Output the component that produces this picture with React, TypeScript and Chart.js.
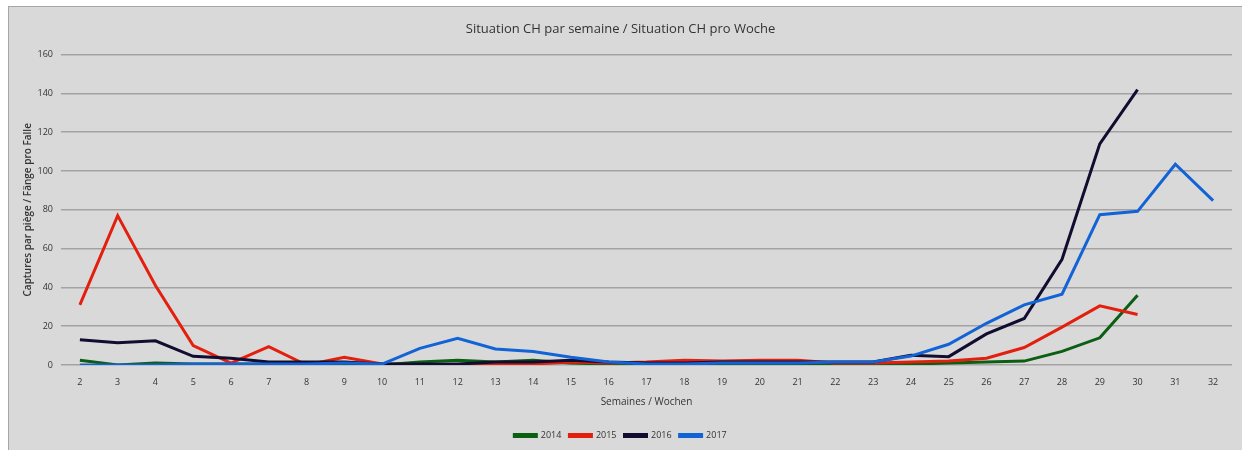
import React, { useEffect, useRef } from "react";
import { Chart, registerables } from "chart.js";

Chart.register(...registerables);

const weeks: string[] = ["2","3","4","5","6","7","8","9","10","11","12","13","14","15","16","17","18","19","20","21","22","23","24","25","26","27","28","29","30","31","32"];

const series2014: (number | null)[] = [2.5, 0, 1, 0.5, 0.5, 0.5, 0.5, 0, 0, 1.5, 2.5, 1.5, 2.5, 1, 0.5, 0, 0, 0, 0, 0, 0, 0.5, 0.5, 1, 1.5, 2, 7, 14, 36, null, null];
const series2015: (number | null)[] = [31, 77, 41, 10, 1, 9.5, 0, 4, 0.5, 0, 0, 0.5, 0.5, 1.5, 1, 1.5, 2.5, 2, 2.5, 2.5, 1, 1, 1.5, 2, 3.5, 9, 19.5, 30.5, 26, null, null];
const series2016: (number | null)[] = [13, 11.5, 12.5, 4.5, 3.5, 1.5, 1.5, 1.5, 0.5, 0.5, 0.5, 1.5, 1.5, 2.5, 1.5, 1, 1, 1.5, 1.5, 1.5, 1.5, 1.5, 5, 4.3, 16, 24, 54.5, 114, 142, null, null];
const series2017: (number | null)[] = [0, 0, 0, 0.5, 0.5, 0.5, 0.5, 1, 0.5, 8.6, 13.8, 8.3, 7, 4, 1.5, 0.5, 0.5, 1, 1, 1, 1.5, 1.5, 4.6, 10.7, 21.5, 31, 36.5, 77.5, 79.2, 103.5, 84.7];

const seriesNames: string[] = ["2014", "2015", "2016", "2017"];
const seriesColors: string[] = ["#0b5e12", "#e3200e", "#120c30", "#1264d6"];

const titleText = "Situation CH par semaine / Situation CH pro Woche";
const yTitle = "Captures par piège / Fänge pro Falle";
const xTitle = "Semaines / Wochen";

export default function App() {
  const ref = useRef<HTMLCanvasElement | null>(null);

  useEffect(() => {
    if (!ref.current) return;
    const all = [series2014, series2015, series2016, series2017];
    const chart = new Chart(ref.current, {
      type: "line",
      data: {
        labels: weeks,
        datasets: all.map((d, i) => ({
          label: seriesNames[i],
          data: d,
          borderColor: seriesColors[i],
          backgroundColor: seriesColors[i],
          borderWidth: 3,
          pointRadius: 0,
          tension: 0,
          spanGaps: false,
          order: 3 - i,
        })),
      },
      options: {
        responsive: false,
        animation: false,
        layout: { padding: { left: 0, right: 10, top: 0, bottom: 0 } },
        plugins: {
          title: {
            display: true,
            text: titleText,
            color: "#333333",
            font: { family: "'Open Sans', sans-serif", size: 13, weight: "normal" },
            padding: { top: 14, bottom: 18 },
          },
          legend: {
            display: true,
            position: "bottom",
            labels: {
              boxWidth: 22,
              boxHeight: 2,
              padding: 8,
              color: "#333333",
              font: { family: "'Open Sans', sans-serif", size: 9 },
              sort: (a: any, b: any) => a.datasetIndex - b.datasetIndex,
            },
          },
          tooltip: { enabled: false },
        },
        scales: {
          x: {
            offset: true,
            grid: { display: false, drawTicks: false },
            border: { display: false },
            ticks: {
              color: "#333333",
              padding: 12,
              maxRotation: 0,
              autoSkip: false,
              font: { family: "'Open Sans', sans-serif", size: 9 },
            },
            title: {
              display: true,
              text: xTitle,
              color: "#333333",
              font: { family: "'Open Sans', sans-serif", size: 10 },
              padding: { top: 0, bottom: 15 },
            },
            afterFit: (s: any) => { s.height = 58; },
          },
          y: {
            min: 0,
            max: 160,
            ticks: {
              stepSize: 20,
              color: "#333333",
              padding: 8,
              font: { family: "'Open Sans', sans-serif", size: 9 },
            },
            grid: { color: "#a3a3a3", lineWidth: 1.5, drawTicks: false },
            border: { display: false },
            title: {
              display: true,
              text: yTitle,
              color: "#333333",
              font: { family: "'Open Sans', sans-serif", size: 10, weight: 600 },
              padding: { top: 13, bottom: 0 },
            },
            afterFit: (s: any) => { s.width = 52; },
          },
        },
      },
    });
    return () => chart.destroy();
  }, []);

  return (
    <div style={{ position: "fixed", left: 0, top: 0, width: 1242, height: 450, background: "#ffffff", overflow: "hidden" }}>
      <div
        style={{
          position: "absolute",
          left: 8,
          top: 6,
          width: 1240,
          height: 450,
          background: "#d9d9d9",
          borderLeft: "1px solid #a6a6a6",
          borderTop: "1px solid #a6a6a6",
        }}
      >
        <canvas ref={ref} width={1233} height={443} style={{ position: "absolute", left: 0, top: 0, width: 1233, height: 443 }} />
      </div>
    </div>
  );
}
